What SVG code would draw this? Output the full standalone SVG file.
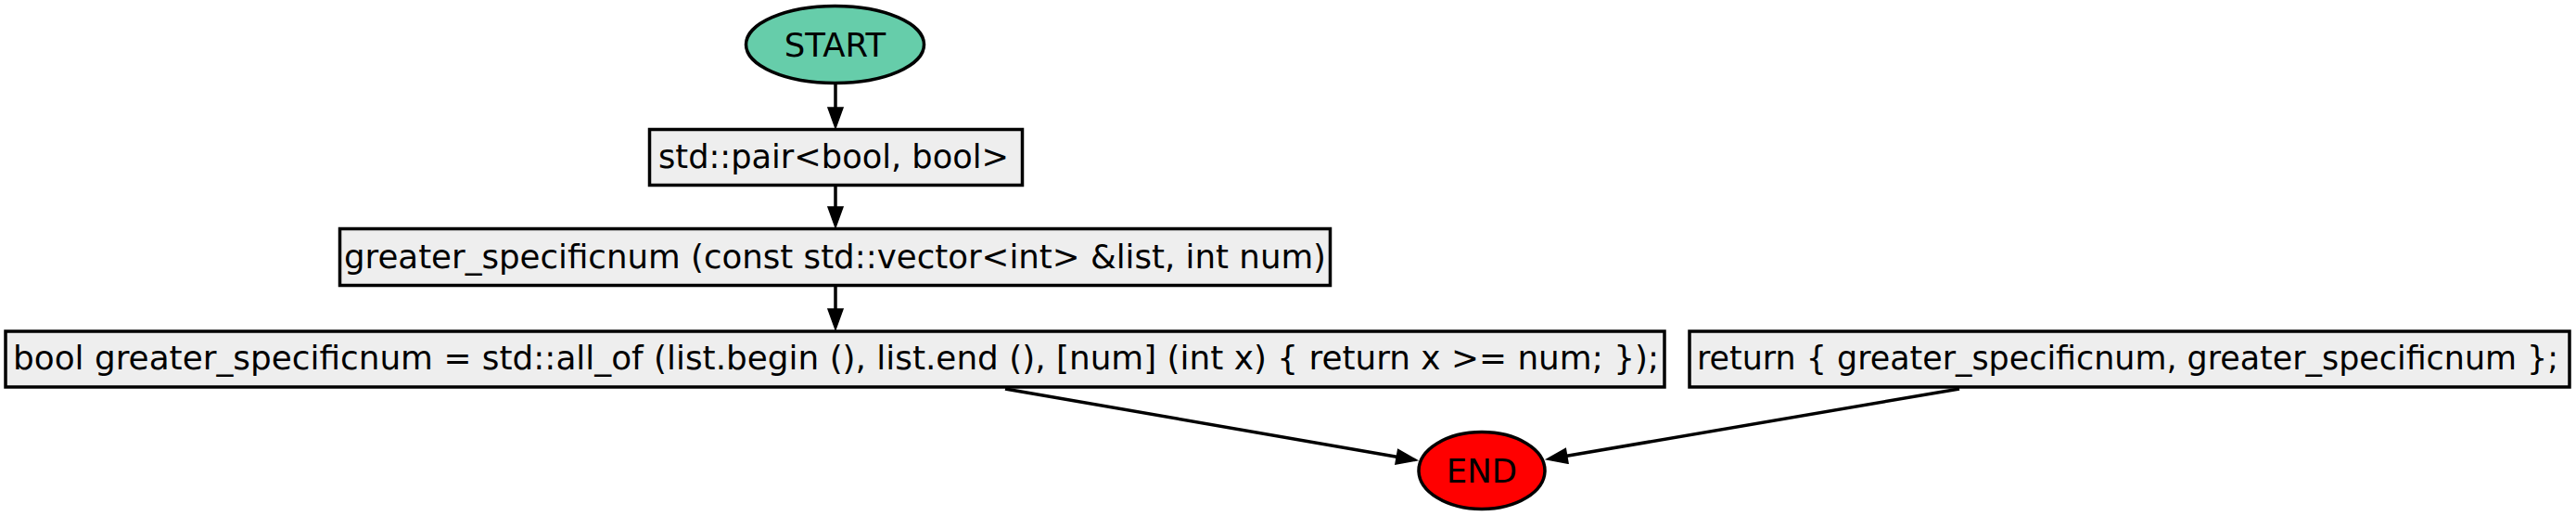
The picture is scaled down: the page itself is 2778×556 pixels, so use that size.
<svg xmlns="http://www.w3.org/2000/svg" width="2778" height="556" viewBox="0 0 2778 556">
<defs>
<style>
.node-box{fill:#eeeeee;stroke:#000;stroke-width:3.5}
.lbl{font-family:"DejaVu Sans","Verdana",sans-serif;font-size:35.5px;fill:#000;text-anchor:middle}
.edge{fill:none;stroke:#000;stroke-width:3.5}
</style>
<marker id="arrow" markerUnits="userSpaceOnUse" markerWidth="24" markerHeight="18" refX="0" refY="8" orient="auto" overflow="visible">
<path d="M0,0 L22,8 L0,16 Z" fill="#000" stroke="#000" stroke-width="1.5"/>
</marker>
</defs>
<rect width="2778" height="556" fill="#fff"/>
<g id="connectors">
<path class="edge" d="M901,91 L901,116" marker-end="url(#arrow)"/>
<path class="edge" d="M901,201 L901,223" marker-end="url(#arrow)"/>
<path class="edge" d="M901,309 L901,333" marker-end="url(#arrow)"/>
<path class="edge" d="M1084,419 L1506.3,492.2" marker-end="url(#arrow)"/>
<path class="edge" d="M2113,419 L1689.7,491.3" marker-end="url(#arrow)"/>
</g>
<g id="start">
<ellipse cx="900.5" cy="48" rx="96" ry="41.5" fill="#66cdaa" stroke="#000" stroke-width="3.5"/>
<text class="lbl" x="900.5" y="61">START</text>
</g>
<g id="pair">
<rect class="node-box" x="700.5" y="139.5" width="402" height="60"/>
<text class="lbl" x="899" y="180.5" textLength="378" lengthAdjust="spacingAndGlyphs">std::pair&lt;bool, bool&gt;</text>
</g>
<g id="signature">
<rect class="node-box" x="366.5" y="246.5" width="1068" height="61"/>
<text class="lbl" x="900.5" y="288.5" textLength="1059" lengthAdjust="spacingAndGlyphs">greater_specificnum (const std::vector&lt;int&gt; &amp;list, int num)</text>
</g>
<g id="allof">
<rect class="node-box" x="6" y="357" width="1789" height="60"/>
<text class="lbl" x="901.5" y="398" textLength="1775" lengthAdjust="spacingAndGlyphs">bool greater_specificnum = std::all_of (list.begin (), list.end (), [num] (int x) { return x &gt;= num; });</text>
</g>
<g id="return">
<rect class="node-box" x="1822" y="357" width="949" height="60"/>
<text class="lbl" x="2294.5" y="398" textLength="929" lengthAdjust="spacingAndGlyphs">return { greater_specificnum, greater_specificnum };</text>
</g>
<g id="end">
<ellipse cx="1598" cy="507" rx="68" ry="41.5" fill="#ff0000" stroke="#000" stroke-width="3.5"/>
<text class="lbl" x="1598" y="520">END</text>
</g>
</svg>
